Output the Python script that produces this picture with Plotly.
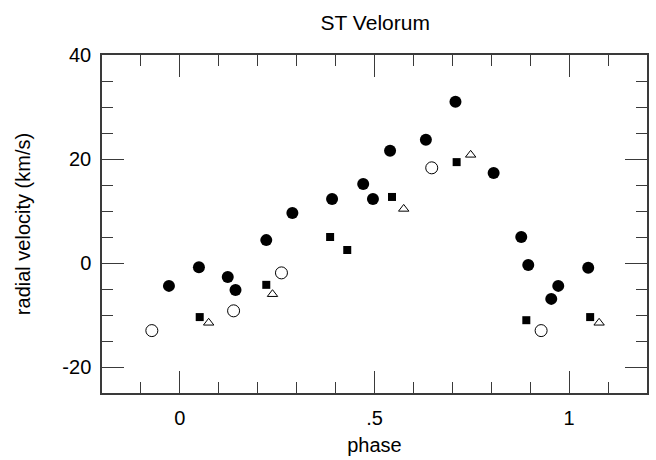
import plotly.graph_objects as go

# Radial velocity measurements of ST Velorum folded on phase, by data set
filled_phase = [-0.028, 0.049, 0.123, 0.143, 0.222, 0.289, 0.391, 0.471, 0.496, 0.540,
                0.632, 0.708, 0.806, 0.877, 0.895, 0.954, 0.972, 1.049]
filled_vel = [-4.4, -0.8, -2.7, -5.2, 4.4, 9.6, 12.3, 15.2, 12.3, 21.6,
              23.7, 31.0, 17.3, 5.0, -0.4, -6.9, -4.4, -0.9]

square_phase = [0.051, 0.222, 0.386, 0.430, 0.545, 0.711, 0.890, 1.054]
square_vel = [-10.4, -4.2, 5.0, 2.5, 12.7, 19.4, -11.0, -10.4]

open_phase = [-0.072, 0.138, 0.261, 0.647, 0.928]
open_vel = [-13.0, -9.2, -1.9, 18.3, -13.0]

tri_phase = [0.074, 0.238, 0.575, 0.747, 1.077]
tri_vel = [-11.5, -6.0, 10.4, 20.8, -11.5]

x_tickvals = [0, 0.5, 1]
x_ticktext = ["0", ".5", "1"]
y_tickvals = [-20, 0, 20, 40]
y_ticktext = ["-20", "0", "20", "40"]

FONT = "Liberation Sans, Arial, Helvetica, sans-serif"
AX = "#3a3a3a"

fig = go.Figure()
fig.add_trace(go.Scatter(x=filled_phase, y=filled_vel, mode="markers",
                         marker=dict(symbol="circle", size=12, color="black",
                                     line=dict(width=0))))
fig.add_trace(go.Scatter(x=square_phase, y=square_vel, mode="markers",
                         marker=dict(symbol="square", size=8, color="black",
                                     line=dict(width=0))))
fig.add_trace(go.Scatter(x=open_phase, y=open_vel, mode="markers",
                         marker=dict(symbol="circle-open", size=12, color="black",
                                     line=dict(width=1, color="black"))))
fig.add_trace(go.Scatter(x=tri_phase, y=tri_vel, mode="markers",
                         marker=dict(symbol="triangle-up-open", size=9, color="black",
                                     line=dict(width=1, color="black"))))

axis_common = dict(showline=True, linecolor=AX, linewidth=1.5, mirror="allticks",
                   ticks="inside", ticklen=22, tickwidth=1.2, tickcolor=AX,
                   showgrid=False, zeroline=False,
                   tickfont=dict(family=FONT, size=20, color="black"))

fig.update_xaxes(range=[-0.2, 1.2], tickmode="array", tickvals=x_tickvals,
                 ticktext=x_ticktext, ticklabelstandoff=6,
                 minor=dict(dtick=0.1, ticks="inside", ticklen=11, tickwidth=1.2,
                            tickcolor=AX, showgrid=False),
                 title=dict(text="phase", font=dict(family=FONT, size=20, color="black"),
                            standoff=10),
                 **axis_common)
fig.update_yaxes(range=[-25, 40], tickmode="array", tickvals=y_tickvals,
                 ticktext=y_ticktext, ticklabelstandoff=5,
                 minor=dict(dtick=5, ticks="inside", ticklen=11, tickwidth=1.2,
                            tickcolor=AX, showgrid=False),
                 title=dict(text="radial velocity (km/s)",
                            font=dict(family=FONT, size=20, color="black"), standoff=26),
                 **axis_common)

fig.update_layout(
    width=656, height=460,
    margin=dict(l=102, r=7, t=55, b=66),
    paper_bgcolor="white", plot_bgcolor="white",
    showlegend=False,
    title=dict(text="ST Velorum", x=0.572, xanchor="center", y=0.95, yanchor="middle",
               font=dict(family=FONT, size=21, color="black")),
)

fig.write_html("out.html")
